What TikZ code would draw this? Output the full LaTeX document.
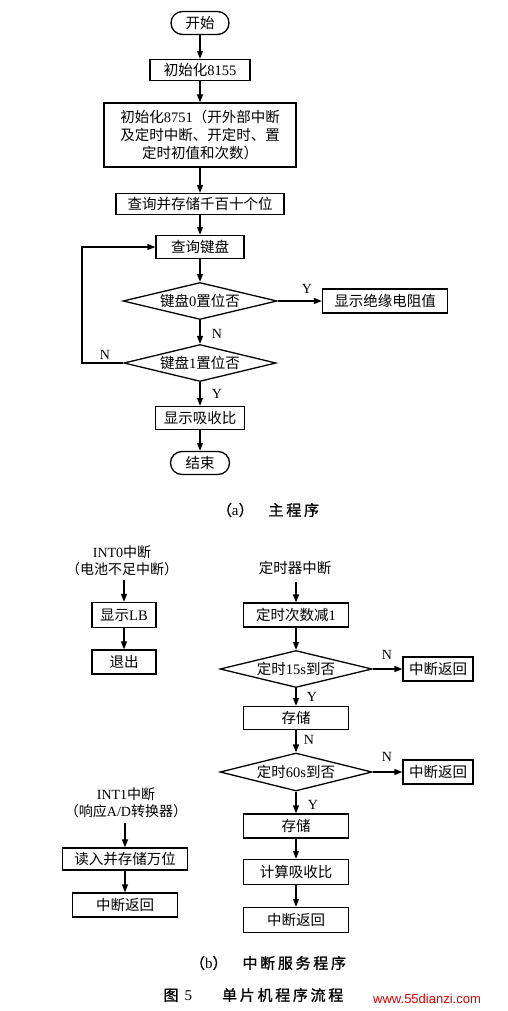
\documentclass[tikz,border=0pt]{standalone}
\usepackage{fontspec}
\setmainfont{Noto Sans CJK SC}
\newfontfamily\lat{Liberation Serif}
\newfontfamily\wmfont{Liberation Sans}
\newfontfamily\capfont{Noto Sans CJK SC}[LetterSpace=18,FakeBold=1]
\usetikzlibrary{shapes.geometric,arrows.meta}
\begin{document}
\begin{tikzpicture}[x=1pt,y=-1pt,
  every node/.style={font=\fontsize{14.5}{18}\selectfont},
  box/.style={draw,line width=1.3pt,inner sep=0pt,minimum width=#1,minimum height=23},
  box/.default=100,
  term/.style={draw,line width=1.3pt,inner sep=0pt,minimum width=58,minimum height=23,rounded corners=11.5pt},
  dia/.style={draw,diamond,aspect=4,line width=1.3pt,inner sep=0pt,minimum width=152,minimum height=37},
  arr/.style={-{Triangle[length=8pt,width=6pt]},line width=1.3pt},
  lbl/.style={font=\fontsize{14}{14}\selectfont\lat,inner sep=1pt},
  captext/.style={font=\fontsize{15}{18}\selectfont\capfont}
]
\useasboundingbox (0,0) rectangle (507,1011);
\fill[white] (0,0) rectangle (507,1011);

% ---------- (a) main program ----------
\node[term] (start) at (200,23) {开始};
\node[box=100,minimum height=21] (i8155) at (200,70) {初始化{\lat 8155}};
\node[box=192,minimum height=64,align=center] (i8751) at (200,135)
  {初始化{\lat 8751}（开外部中断\\及定时中断、开定时、置\\定时初值和次数）};
\node[box=168,minimum height=21] (qry) at (200,204) {查询并存储千百十个位};
\node[box=88] (kb) at (200,247) {查询键盘};
\node[dia,minimum width=154] (d0) at (200,301) {键盘{\lat 0}置位否};
\node[box=125,minimum height=24] (disp0) at (385,301) {显示绝缘电阻值};
\node[dia] (d1) at (200,363) {键盘{\lat 1}置位否};
\node[box=89] (s1) at (200,418) {显示吸收比};
\node[term,minimum width=59] (fin) at (200,463) {结束};
\coordinate (lp) at (82,363);

\draw[arr] (start) -- (i8155);
\draw[arr] (i8155) -- (i8751);
\draw[arr] (i8751) -- (qry);
\draw[arr] (qry) -- (kb);
\draw[arr] (kb) -- (d0);
\draw[arr] (d0) -- (disp0);
\draw[arr] (d0) -- (d1);
\draw[arr] (d1.west) -- (lp) |- (kb.west);
\draw[arr] (d1) -- (s1);
\draw[arr] (s1) -- (fin);

\node[lbl] (ly0) at (307,289) {Y};
\node[lbl] (ln0) at (217,334) {N};
\node[lbl] (ln1) at (105,355) {N};
\node[lbl] (ly1) at (217,394) {Y};

\node[captext] (capa) at (268,510) {（{\lat a}）\quad 主程序};

% ---------- (b) interrupt routines ----------
\node[inner sep=0pt,align=center,font=\fontsize{14}{17}\selectfont] (int0) at (122,561)
  {{\lat INT0}中断\\（电池不足中断）};
\coordinate (int0a) at (124,580);
\node[box=64,minimum height=25] (lb) at (124,615) {显示{\lat LB}};
\node[box=64,minimum height=24] (quit) at (124,662) {退出};
\draw[arr] (int0a) -- (lb);
\draw[arr] (lb) -- (quit);

\node[inner sep=0pt] (tmr) at (295,568) {定时器中断};
\coordinate (tmra) at (296,582);
\node[box=105,minimum height=24] (dec) at (296,615) {定时次数减{\lat 1}};
\node[dia] (d15) at (296,669) {定时{\lat 15s}到否};
\node[box=70,minimum height=24] (ret1) at (438,669) {中断返回};
\node[box=105] (st1) at (296,718) {存储};
\node[dia,minimum height=38] (d60) at (296,772) {定时{\lat 60s}到否};
\node[box=70,minimum height=24] (ret2) at (438,772) {中断返回};
\node[box=105,minimum height=24] (st2) at (296,826) {存储};
\node[box=105,minimum height=25] (calc) at (296,872) {计算吸收比};
\node[box=105,minimum height=25] (ret3) at (296,920) {中断返回};

\draw[arr] (tmra) -- (dec);
\draw[arr] (dec) -- (d15);
\draw[arr] (d15) -- (ret1);
\draw[arr] (d15) -- (st1);
\draw[arr] (st1) -- (d60);
\draw[arr] (d60) -- (ret2);
\draw[arr] (d60) -- (st2);
\draw[arr] (st2) -- (calc);
\draw[arr] (calc) -- (ret3);

\node[lbl] (n15) at (387,655) {N};
\node[lbl] (y15) at (312,697) {Y};
\node[lbl] (nst) at (309,740) {N};
\node[lbl] (n60) at (387,757) {N};
\node[lbl] (y60) at (313,805) {Y};

\node[inner sep=0pt,align=center,font=\fontsize{14}{17}\selectfont] (int1) at (126,803)
  {{\lat INT1}中断\\（响应{\lat A/D}转换器）};
\coordinate (int1a) at (125,823);
\node[box=125,minimum height=22] (rd) at (125,859) {读入并存储万位};
\node[box=105,minimum height=24] (ret4) at (125,905) {中断返回};
\draw[arr] (int1a) -- (rd);
\draw[arr] (rd) -- (ret4);

\node[captext] (capb) at (268,963) {（{\lat b}）\quad 中断服务程序};
\node[captext,anchor=west] (fig) at (160,995) {图 {\lat 5}\quad\quad 单片机程序流程};
\node[anchor=west,text=red!85!black,font=\fontsize{13}{13}\selectfont\wmfont,inner sep=0pt] (wm) at (373,999) {www.55dianzi.com};
\end{tikzpicture}
\end{document}
